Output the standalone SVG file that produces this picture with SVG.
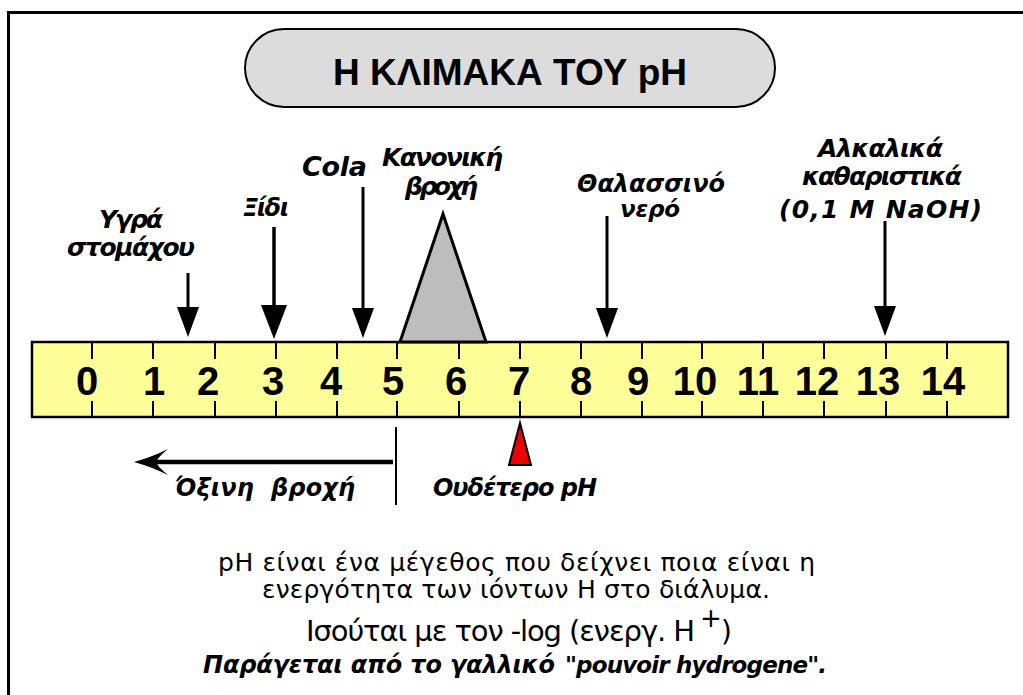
<svg xmlns="http://www.w3.org/2000/svg" width="1023" height="695" viewBox="0 0 1023 695">
<style>
.lbl{font-family:"DejaVu Sans","Liberation Sans",sans-serif;font-weight:bold;font-style:oblique;fill:#000}
.num{font-family:"Liberation Sans",Arial,sans-serif;font-weight:bold;font-size:40px;fill:#000;text-anchor:middle}
.body{font-family:"DejaVu Sans","Liberation Sans",sans-serif;fill:#000}
.tick{stroke:#000;stroke-width:2}
.shaft{stroke:#000;fill:none}
.head{fill:#000;stroke:none}
</style>
<rect x="0" y="0" width="1023" height="695" fill="#fff"/>
<g id="frame"><rect x="8.5" y="12.5" width="1030" height="700" fill="none" stroke="#000" stroke-width="3"/></g>
<g id="title">
<rect x="245" y="29" width="530" height="78" rx="39" ry="39" fill="#dcdcdc" stroke="#000" stroke-width="2"/>
<text x="510" y="85" text-anchor="middle" font-family="'Liberation Sans',Arial,sans-serif" font-weight="bold" font-size="37">Η ΚΛΙΜΑΚΑ ΤΟΥ pH</text>
</g>
<g id="scale">
<rect x="32" y="342" width="976" height="75" fill="#ffff99" stroke="#000" stroke-width="2.5"/>
<path class="tick" d="M92,342V359M153,342V359M215,342V359M276,342V359M337,342V359M397,342V359M459,342V359M520,342V359M581,342V359M642,342V359M702,342V359M763,342V359M824,342V359M886,342V359M947,342V359"/>
<path class="tick" d="M92,401V417M153,401V417M215,401V417M276,401V417M337,401V417M397,401V417M459,401V417M520,401V417M581,401V417M642,401V417M702,401V417M763,401V417M824,401V417M886,401V417M947,401V417"/>
<text class="num" x="87" y="395">0</text>
<text class="num" x="154" y="395">1</text>
<text class="num" x="208" y="395">2</text>
<text class="num" x="273" y="395">3</text>
<text class="num" x="331" y="395">4</text>
<text class="num" x="393" y="395">5</text>
<text class="num" x="456" y="395">6</text>
<text class="num" x="519" y="395">7</text>
<text class="num" x="581" y="395">8</text>
<text class="num" x="638" y="395">9</text>
<text class="num" x="695" y="395">10</text>
<text class="num" x="758" y="395">11</text>
<text class="num" x="817" y="395">12</text>
<text class="num" x="878" y="395">13</text>
<text class="num" x="943" y="395">14</text>
</g>
<g id="rain-triangle"><polygon points="400,342 443,214 486,342" fill="#bdbdbd" stroke="#000" stroke-width="3"/></g>
<g id="neutral-marker"><polygon points="520,423 509,465 531,465" fill="#ee0000" stroke="#000" stroke-width="2"/></g>
<g id="connectors">
<line class="shaft" x1="188" y1="273" x2="188" y2="310" stroke-width="3"/>
<polygon class="head" points="177,307 199,307 188,337"/>
<line class="shaft" x1="274" y1="227" x2="274" y2="308" stroke-width="3.5"/>
<polygon class="head" points="261,305 287,305 274,339"/>
<line class="shaft" x1="363" y1="187" x2="363" y2="311" stroke-width="3"/>
<polygon class="head" points="352,308 374,308 363,338"/>
<line class="shaft" x1="607" y1="216" x2="607" y2="311" stroke-width="3"/>
<polygon class="head" points="596,308 618,308 607,338"/>
<line class="shaft" x1="885" y1="221" x2="885" y2="309" stroke-width="3"/>
<polygon class="head" points="874,306 896,306 885,336"/>
<line class="shaft" x1="393" y1="462" x2="152" y2="462" stroke-width="4.5"/>
<path class="head" d="M134,462 Q152,457 168,449 Q158,457 156,462 Q158,467 168,475 Q152,467 134,462Z"/>
<line class="shaft" x1="396" y1="427" x2="396" y2="505" stroke-width="2"/>
</g>
<g id="label-stomach">
<text class="lbl" x="99" y="228" font-size="25" textLength="64" lengthAdjust="spacing">Υγρά</text>
<text class="lbl" x="67" y="256" font-size="25" textLength="128" lengthAdjust="spacing">στομάχου</text>
</g>
<g id="label-vinegar"><text class="lbl" x="243" y="216" font-size="24" textLength="46" lengthAdjust="spacing">Ξίδι</text></g>
<g id="label-cola"><text class="lbl" x="302" y="176" font-size="27" textLength="65" lengthAdjust="spacing">Cola</text></g>
<g id="label-rain">
<text class="lbl" x="382" y="166" font-size="25" textLength="121" lengthAdjust="spacing">Κανονική</text>
<text class="lbl" x="405" y="195" font-size="25" textLength="73" lengthAdjust="spacing">βροχή</text>
</g>
<g id="label-sea">
<text class="lbl" x="577" y="192" font-size="24" textLength="148" lengthAdjust="spacing">Θαλασσινό</text>
<text class="lbl" x="620" y="217" font-size="23" textLength="60" lengthAdjust="spacing">νερό</text>
</g>
<g id="label-alkali">
<text class="lbl" x="818" y="157" font-size="25" textLength="125" lengthAdjust="spacing">Αλκαλικά</text>
<text class="lbl" x="802" y="185" font-size="25" textLength="160" lengthAdjust="spacing">καθαριστικά</text>
<text class="lbl" x="779" y="218" font-size="25" textLength="203" lengthAdjust="spacing">(0,1 M NaOH)</text>
</g>
<g id="label-acid-rain">
<text class="lbl" x="175" y="496" font-size="24" textLength="180" lengthAdjust="spacing" xml:space="preserve">Όξινη  βροχή</text>
</g>
<g id="label-neutral"><text class="lbl" x="433" y="496" font-size="24" textLength="164" lengthAdjust="spacing">Ουδέτερο pH</text></g>
<g id="description">
<text class="body" x="218" y="571" font-size="25" textLength="597" lengthAdjust="spacing">pH είναι ένα μέγεθος που δείχνει ποια είναι η</text>
<text class="body" x="262" y="598" font-size="25" textLength="508" lengthAdjust="spacing">ενεργότητα των ιόντων Η στο διάλυμα.</text>
<text class="body" x="306" y="641" font-size="29" textLength="389" lengthAdjust="spacing">Ισούται με τον -log (ενεργ. Η</text>
<text class="body" x="700" y="627" font-size="26">+</text>
<text class="body" x="721" y="641" font-size="28">)</text>
<text class="lbl" x="203" y="673" font-size="24" textLength="352" lengthAdjust="spacing">Παράγεται από το γαλλικό</text>
<text class="lbl" x="565" y="673" font-size="23" textLength="262" lengthAdjust="spacing">"pouvoir hydrogene".</text>
</g>
</svg>
